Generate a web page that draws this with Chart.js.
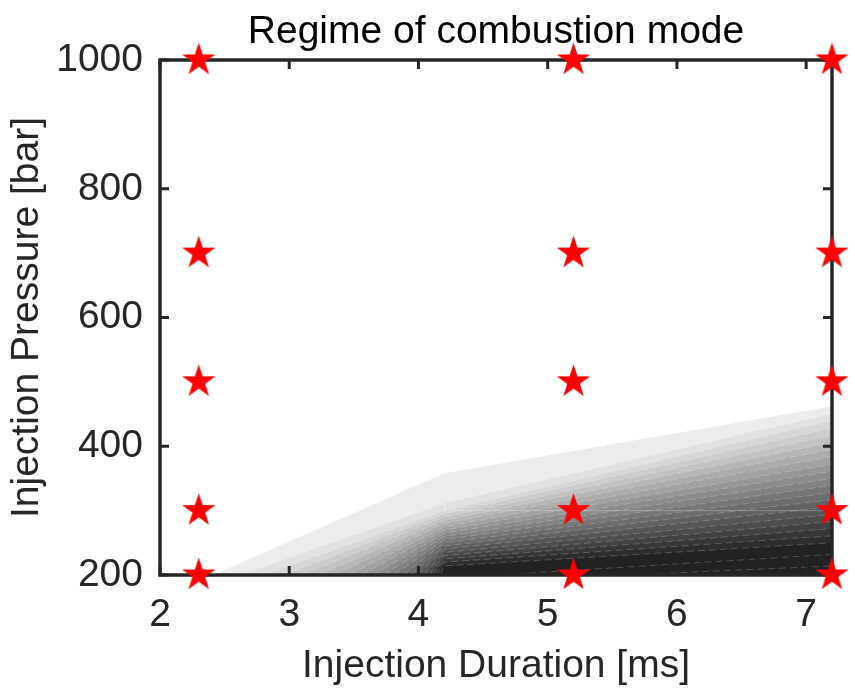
<!DOCTYPE html>
<html>
<head>
<meta charset="utf-8">
<script src="https://cdn.jsdelivr.net/npm/chart.js@4.4.1/dist/chart.umd.min.js"></script>
<style>
  html, body { margin: 0; padding: 0; background: #ffffff; }
  #wrap { width: 855px; height: 695px; }
</style>
</head>
<body>
<div id="wrap"><canvas id="c" width="855" height="695"></canvas></div>
<script>
// ---- data ----
const chartTitle = 'Regime of combustion mode';
const xAxisTitle = 'Injection Duration [ms]';
const yAxisTitle = 'Injection Pressure [bar]';
const xTickValues = [2, 3, 4, 5, 6, 7];
const yTickValues = [200, 400, 600, 800, 1000];
const xRange = [2, 7.2];
const yRange = [200, 1000];

// measured operating points (red stars)
const starDurations = [2.3, 5.2, 7.2];
const starPressures = [200, 300, 500, 700, 1000];

// filled contour levels (lightest -> darkest)
const contourBasePressure = 200;
const contourKinkDuration = 4.2;
const contourEndDuration = 7.2;
const levelStartDuration = [2.41, 2.62, 2.80, 2.96, 3.10, 3.23, 3.35, 3.46, 3.56, 3.65, 3.73, 3.81, 3.88, 3.94, 3.99, 4.04, 4.08, 4.11, 4.14, 4.17, 4.6, 5.6];
const levelPressureAtKink = [358, 312, 300, 295, 290, 285, 280, 275, 270, 265, 260, 255, 250, 245, 240, 235, 230, 225, 220, 214, null, null];
const levelPressureAtEnd = [462, 451, 440, 428, 417, 406, 395, 384, 372, 361, 350, 339, 328, 317, 306, 294, 283, 272, 261, 250, 232, 214];
const levelGray = [236, 225, 215, 204, 194, 183, 172, 162, 151, 140, 130, 119, 109, 98, 87, 77, 66, 55, 45, 34, 34, 34];

// triangulation seam visible in the contour
const seamDurations = [4.2, 4.2, 7.2];
const seamPressures = [312, 300, 300];

// ---- star marker ----
function makeStar(R, color) {
  const size = Math.ceil(2 * R + 2);
  const cv = document.createElement('canvas');
  cv.width = size; cv.height = size;
  const g = cv.getContext('2d');
  const cx = size / 2, cy = size / 2, r = R * 0.382;
  g.beginPath();
  for (let i = 0; i < 10; i++) {
    const rad = (i % 2 === 0) ? R : r;
    const a = -Math.PI / 2 + i * Math.PI / 5;
    const px = cx + rad * Math.cos(a), py = cy + rad * Math.sin(a);
    if (i === 0) g.moveTo(px, py); else g.lineTo(px, py);
  }
  g.closePath();
  g.fillStyle = color;
  g.fill();
  return cv;
}
const starImg = makeStar(17.5, '#ff0000');

// ---- datasets ----
const datasets = [];
levelStartDuration.forEach((x0, k) => {
  const pts = [{x: x0, y: contourBasePressure}];
  if (levelPressureAtKink[k] !== null) pts.push({x: contourKinkDuration, y: levelPressureAtKink[k]});
  pts.push({x: contourEndDuration, y: levelPressureAtEnd[k]});
  const g = levelGray[k];
  datasets.push({
    type: 'line',
    label: 'level ' + k,
    data: pts,
    showLine: true,
    fill: 'start',
    backgroundColor: `rgb(${g},${g},${g})`,
    borderColor: 'rgba(255,255,255,0.25)',
    borderWidth: 0.8,
    borderDash: [7, 4],
    pointRadius: 0,
    tension: 0,
    order: 100 - k
  });
});
const seamIndex = datasets.length;
datasets.push({
  type: 'line',
  label: 'seam',
  data: seamDurations.map((x, i) => ({x: x, y: seamPressures[i]})),
  showLine: true,
  fill: false,
  borderColor: 'rgba(255,255,255,0.25)',
  borderWidth: 1,
  pointRadius: 0,
  order: 1
});
const stars = [];
starDurations.forEach(x => starPressures.forEach(y => stars.push({x: x, y: y})));
datasets.push({
  type: 'scatter',
  label: 'points',
  data: stars,
  pointStyle: starImg,
  pointRadius: 17,
  pointHoverRadius: 17,
  clip: false,
  order: 0
});

const AXIS = '#262626';
const FONT = '"Liberation Sans", Arial, Helvetica, sans-serif';

const boxPlugin = {
  id: 'boxPlugin',
  afterDatasetDraw(chart, args) {
    if (args.index !== seamIndex) return;
    const {ctx, chartArea: a, scales} = chart;
    ctx.save();
    ctx.strokeStyle = AXIS;
    ctx.lineWidth = 3.5;
    ctx.lineCap = 'square';
    ctx.strokeRect(a.left, a.top, a.right - a.left, a.bottom - a.top);
    ctx.lineWidth = 3;
    ctx.lineCap = 'butt';
    const tl = 9;
    scales.x.ticks.forEach(t => {
      const px = scales.x.getPixelForValue(t.value);
      ctx.beginPath();
      ctx.moveTo(px, a.bottom); ctx.lineTo(px, a.bottom - tl);
      ctx.moveTo(px, a.top); ctx.lineTo(px, a.top + tl);
      ctx.stroke();
    });
    scales.y.ticks.forEach(t => {
      const py = scales.y.getPixelForValue(t.value);
      ctx.beginPath();
      ctx.moveTo(a.left, py); ctx.lineTo(a.left + tl, py);
      ctx.moveTo(a.right, py); ctx.lineTo(a.right - tl, py);
      ctx.stroke();
    });
    ctx.restore();
  }
};

new Chart(document.getElementById('c'), {
  type: 'scatter',
  data: { datasets: datasets },
  options: {
    responsive: false,
    animation: false,
    events: [],
    layout: { padding: { top: 0, right: 23, bottom: 0, left: 0 } },
    plugins: {
      legend: { display: false },
      tooltip: { enabled: false },
      title: {
        display: true,
        text: chartTitle,
        fullSize: false,
        color: '#000000',
        font: { family: FONT, size: 39, weight: 'normal', lineHeight: 1.2 },
        padding: { top: 9, bottom: 4.2 }
      }
    },
    scales: {
      x: {
        type: 'linear',
        min: xRange[0], max: xRange[1],
        afterBuildTicks: s => { s.ticks = xTickValues.map(v => ({value: v})); },
        afterFit: s => { s.height = 120; },
        grid: { display: false, drawTicks: false },
        border: { display: false },
        ticks: {
          color: AXIS,
          padding: 17,
          maxRotation: 0,
          callback: v => String(v),
          font: { family: FONT, size: 39 }
        },
        title: {
          display: true,
          text: xAxisTitle,
          color: AXIS,
          font: { family: FONT, size: 39, lineHeight: 1.2 },
          padding: { top: 0, bottom: 5.5 }
        }
      },
      y: {
        type: 'linear',
        min: yRange[0], max: yRange[1],
        afterBuildTicks: s => { s.ticks = yTickValues.map(v => ({value: v})); },
        afterFit: s => { s.width = 160; },
        grid: { display: false, drawTicks: false },
        border: { display: false },
        ticks: {
          color: AXIS,
          padding: 17,
          callback: v => String(v),
          font: { family: FONT, size: 39 }
        },
        title: {
          display: true,
          text: yAxisTitle,
          color: AXIS,
          font: { family: FONT, size: 39, lineHeight: 1.2 },
          padding: { top: 4, bottom: 0 }
        }
      }
    }
  },
  plugins: [boxPlugin]
});
</script>
</body>
</html>
